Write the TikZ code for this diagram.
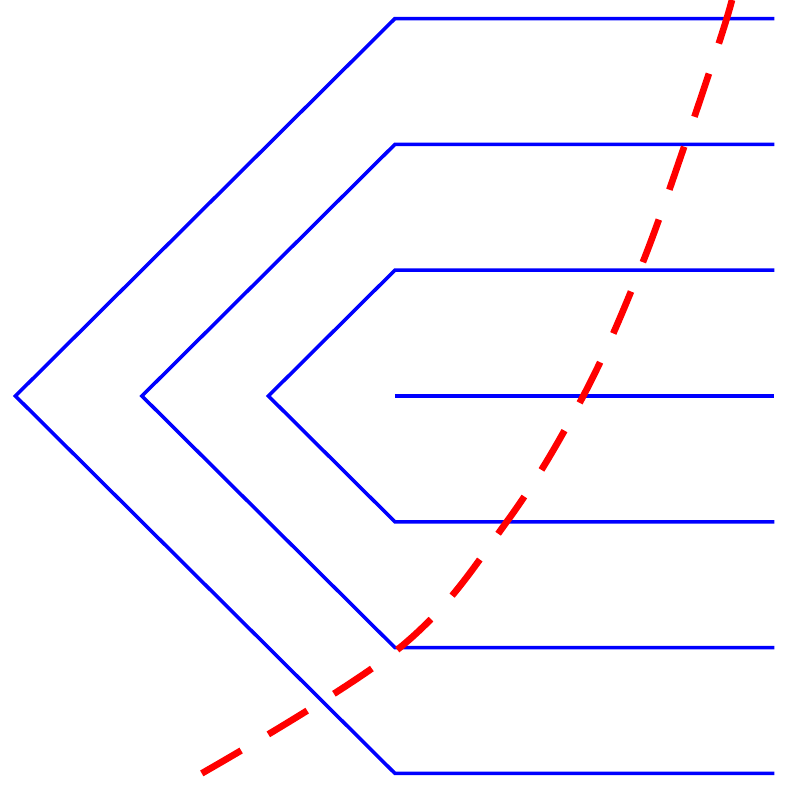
\documentclass[tikz,border=0pt]{standalone}
\begin{document}
\begin{tikzpicture}[x=1cm,y=0.9945cm,
  blueline/.style={draw={rgb,255:red,0;green,0;blue,255},line width=0.8pt,line join=miter},
  redcurve/.style={draw={rgb,255:red,255;green,0;blue,0},line width=1.5pt,dash pattern=on 0.36cm off 0.25cm}]
\useasboundingbox (-0.122,-3.156) rectangle (6.115,3.148);
\clip (-0.122,-3.156) rectangle (6.115,3.148);
\draw[blueline] (6,3) -- (3,3) -- (0,0) -- (3,-3) -- (6,-3);
\draw[blueline] (6,2) -- (3,2) -- (1,0) -- (3,-2) -- (6,-2);
\draw[blueline] (6,1) -- (3,1) -- (2,0) -- (3,-1) -- (6,-1);
\draw[blueline] (3,0) -- (6,0);
\draw[redcurve] plot[smooth,tension=0.6] coordinates {(1.473,-3) (3.04,-2) (3.884,-1) (4.489,0) (4.935,1) (5.293,2) (5.623,3) (5.72,3.4)};
\end{tikzpicture}
\end{document}
